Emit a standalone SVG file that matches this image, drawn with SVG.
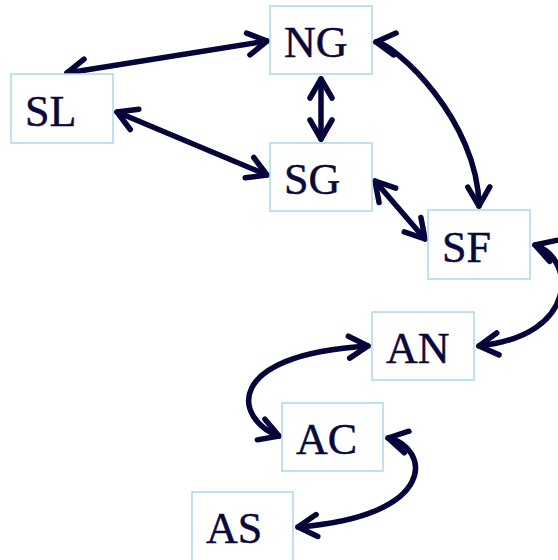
<svg xmlns="http://www.w3.org/2000/svg" width="558" height="560" viewBox="0 0 558 560">
  <style>
    .box { fill: #ffffff; stroke: #add8e6; stroke-width: 1.5; }
    .lbl { font-family: "Liberation Serif", "Times New Roman", serif; font-size: 44px; fill: #0a0a3a; stroke: #0a0a3a; stroke-width: 0.5; }
    .edge { fill: none; stroke: #05053a; stroke-width: 5.5; stroke-linecap: round; stroke-linejoin: round; marker-start: url(#head); marker-end: url(#head); }
  </style>
  <defs>
    <!-- open chevron head, drawn at both ends of every connector -->
    <marker id="head" markerUnits="userSpaceOnUse" markerWidth="32" markerHeight="32" viewBox="-22 -16 26 32" refX="0" refY="0" orient="auto-start-reverse">
      <path d="M-19,-11 L0,0 L-19,11" fill="none" stroke="#05053a" stroke-width="5.5" stroke-linecap="round" stroke-linejoin="round"/>
    </marker>
  </defs>

  <rect width="558" height="560" fill="#ffffff"/>

  <g id="connectors">
    <path class="edge" d="M67,73 L267,41"/>
    <path class="edge" d="M117,112 L267,175"/>
    <path class="edge" d="M321,79 L321,139"/>
    <path class="edge" d="M376,42 C395,44 478,120 479,206"/>
    <path class="edge" d="M375,181 L425,239"/>
    <path class="edge" d="M535,245 C575,258 580,335 479,346"/>
    <path class="edge" d="M368,346 C220,355 235,420 279,436"/>
    <path class="edge" d="M388,438 C430,447 440,516 298,527"/>
  </g>

  <g id="NG"><rect class="box" x="270" y="6" width="102" height="68"/><text class="lbl" x="284" y="57">NG</text></g>
  <g id="SL"><rect class="box" x="11" y="74" width="102" height="69"/><text class="lbl" x="25" y="126">SL</text></g>
  <g id="SG"><rect class="box" x="270" y="143" width="102" height="68"/><text class="lbl" x="284" y="194">SG</text></g>
  <g id="SF"><rect class="box" x="428" y="210" width="102" height="69"/><text class="lbl" x="442" y="262">SF</text></g>
  <g id="AN"><rect class="box" x="372" y="312" width="102" height="68"/><text class="lbl" x="386" y="363">AN</text></g>
  <g id="AC"><rect class="box" x="282" y="403" width="101" height="68"/><text class="lbl" x="296" y="454">AC</text></g>
  <g id="AS"><rect class="box" x="192" y="492" width="101" height="70"/><text class="lbl" x="206" y="543">AS</text></g>
</svg>
